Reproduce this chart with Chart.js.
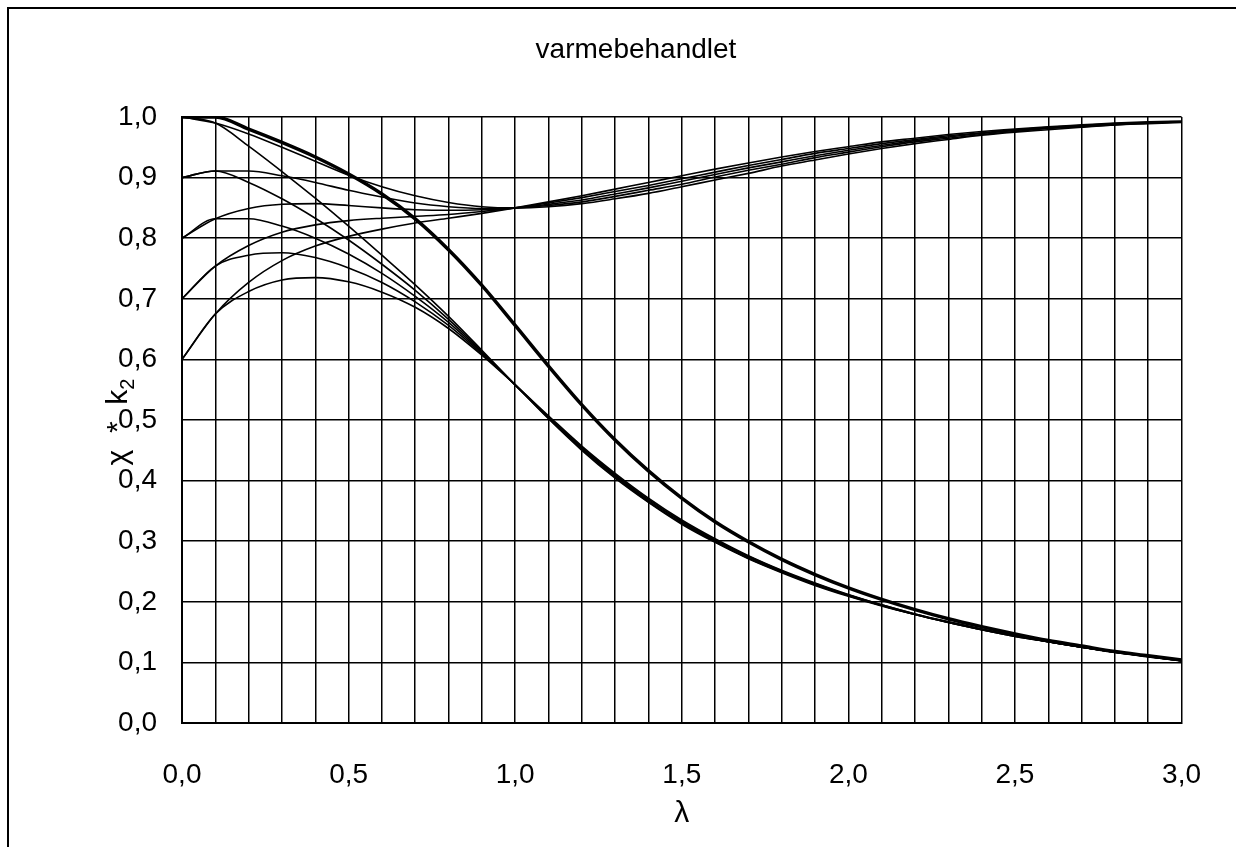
<!DOCTYPE html>
<html>
<head>
<meta charset="utf-8">
<title>varmebehandlet</title>
<script src="https://cdn.jsdelivr.net/npm/chart.js@4.4.1/dist/chart.umd.min.js"></script>
<style>
  html, body { margin: 0; padding: 0; background: #fff; }
  #graf { display: block; }
</style>
</head>
<body>
<canvas id="graf" width="1236" height="847"></canvas>
<script>
// ======================
// χ * k2 - varmebehandlet
// ======================

// slankhet λ
const lambda = [0.0, 0.1, 0.2, 0.3, 0.4, 0.5, 0.6, 0.7, 0.8, 0.9, 1.0,
  1.1, 1.2, 1.3, 1.4, 1.5, 1.6, 1.7, 1.8, 1.9, 2.0,
  2.1, 2.2, 2.3, 2.4, 2.5, 2.6, 2.7, 2.8, 2.9, 3.0];

// χ (tykk kurve)
const chi = [1.000, 1.000, 0.980, 0.958, 0.934, 0.906, 0.873, 0.832, 0.781, 0.722, 0.656,
  0.589, 0.525, 0.467, 0.416, 0.371, 0.332, 0.299, 0.270, 0.245, 0.223,
  0.204, 0.187, 0.172, 0.159, 0.147, 0.136, 0.127, 0.118, 0.111, 0.104];

// k2 for startverdi 0,6 - 1,0
const k2_06 = [0.600, 0.675, 0.727, 0.763, 0.787, 0.803, 0.815, 0.825, 0.833, 0.841, 0.850,
  0.860, 0.870, 0.881, 0.892, 0.903, 0.914, 0.924, 0.934, 0.943, 0.951,
  0.959, 0.965, 0.971, 0.976, 0.980, 0.984, 0.987, 0.990, 0.992, 0.993];
const k2_07 = [0.700, 0.754, 0.788, 0.810, 0.822, 0.829, 0.833, 0.836, 0.839, 0.844, 0.850,
  0.858, 0.867, 0.877, 0.887, 0.898, 0.909, 0.920, 0.930, 0.940, 0.948,
  0.956, 0.963, 0.969, 0.974, 0.979, 0.983, 0.986, 0.989, 0.991, 0.993];
const k2_08 = [0.800, 0.832, 0.849, 0.856, 0.857, 0.854, 0.850, 0.847, 0.846, 0.847, 0.850,
  0.856, 0.863, 0.873, 0.883, 0.894, 0.905, 0.916, 0.926, 0.936, 0.945,
  0.953, 0.961, 0.967, 0.973, 0.978, 0.982, 0.985, 0.988, 0.990, 0.992];
const k2_09 = [0.900, 0.911, 0.911, 0.903, 0.892, 0.879, 0.868, 0.858, 0.852, 0.849, 0.850,
  0.854, 0.860, 0.869, 0.879, 0.889, 0.901, 0.912, 0.922, 0.933, 0.942,
  0.951, 0.959, 0.965, 0.971, 0.976, 0.981, 0.984, 0.987, 0.990, 0.992];
const k2_10 = [1.000, 0.990, 0.972, 0.950, 0.927, 0.904, 0.885, 0.870, 0.859, 0.852, 0.850,
  0.852, 0.857, 0.865, 0.874, 0.885, 0.896, 0.907, 0.919, 0.929, 0.939,
  0.948, 0.956, 0.963, 0.970, 0.975, 0.979, 0.983, 0.987, 0.989, 0.991];

// χ * k2
const prod_06 = [0.600, 0.675, 0.712, 0.731, 0.735, 0.728, 0.711, 0.686, 0.651, 0.607, 0.558,
  0.507, 0.457, 0.412, 0.371, 0.335, 0.304, 0.276, 0.252, 0.231, 0.212,
  0.195, 0.180, 0.167, 0.155, 0.144, 0.134, 0.125, 0.117, 0.110, 0.103];
const prod_07 = [0.700, 0.754, 0.772, 0.776, 0.768, 0.751, 0.727, 0.695, 0.656, 0.609, 0.558,
  0.505, 0.455, 0.410, 0.369, 0.333, 0.302, 0.275, 0.251, 0.230, 0.211,
  0.195, 0.180, 0.167, 0.155, 0.144, 0.134, 0.125, 0.117, 0.110, 0.103];
const prod_08 = [0.800, 0.832, 0.832, 0.820, 0.800, 0.774, 0.742, 0.704, 0.661, 0.611, 0.558,
  0.504, 0.454, 0.408, 0.367, 0.332, 0.301, 0.274, 0.250, 0.229, 0.211,
  0.194, 0.179, 0.166, 0.154, 0.144, 0.134, 0.125, 0.117, 0.110, 0.103];
const prod_09 = [0.900, 0.911, 0.892, 0.865, 0.833, 0.797, 0.757, 0.714, 0.666, 0.613, 0.558,
  0.503, 0.452, 0.406, 0.365, 0.330, 0.299, 0.272, 0.249, 0.228, 0.210,
  0.194, 0.179, 0.166, 0.154, 0.143, 0.134, 0.125, 0.117, 0.110, 0.103];
const prod_10 = [1.000, 0.990, 0.952, 0.910, 0.866, 0.820, 0.772, 0.723, 0.671, 0.615, 0.558,
  0.502, 0.450, 0.404, 0.364, 0.328, 0.298, 0.271, 0.248, 0.227, 0.209,
  0.193, 0.179, 0.166, 0.154, 0.143, 0.134, 0.125, 0.117, 0.109, 0.103];

const k2Serier = [k2_06, k2_07, k2_08, k2_09, k2_10];
const prodSerier = [prod_06, prod_07, prod_08, prod_09, prod_10];

const FONT = "'Liberation Sans', Arial, sans-serif";
const fmt = (v) => v.toFixed(1).replace(".", ",");
const punkter = (arr) => lambda.map((x, i) => ({ x, y: arr[i] }));

const linje = (arr, bredde) => ({
  data: punkter(arr),
  borderColor: "#000",
  borderWidth: bredde,
  pointRadius: 0,
  fill: false,
  cubicInterpolationMode: "monotone",
});

const datasets = [linje(chi, 3.5)];
k2Serier.forEach((s) => datasets.push(linje(s, 1.6)));
prodSerier.forEach((s) => datasets.push(linje(s, 1.6)));

// hvit bakgrunn, ramme, tittel og y-aksetittel med senket 2
const tegnTekst = {
  id: "tegnTekst",
  beforeDraw(chart) {
    const ctx = chart.ctx;
    ctx.save();
    ctx.fillStyle = "#fff";
    ctx.fillRect(0, 0, chart.width, chart.height);
    ctx.strokeStyle = "#000";
    ctx.lineWidth = 2;
    ctx.strokeRect(8, 8, 1400, 1000);
    ctx.restore();
  },
  afterDraw(chart) {
    const ctx = chart.ctx;
    ctx.save();
    ctx.fillStyle = "#000";
    ctx.textBaseline = "middle";
    ctx.textAlign = "center";
    ctx.font = "28px " + FONT;
    ctx.fillText("varmebehandlet", 636, 50);
    ctx.restore();

    // χ * k2 rotert
    ctx.save();
    ctx.fillStyle = "#000";
    ctx.translate(117, 422);
    ctx.rotate(-Math.PI / 2);
    ctx.textAlign = "left";
    ctx.textBaseline = "alphabetic";
    const hoved = "χ  *  k";
    ctx.font = "30px " + FONT;
    const b1 = ctx.measureText(hoved).width;
    ctx.font = "20px " + FONT;
    const b2 = ctx.measureText("2").width;
    const start = -(b1 + b2) / 2;
    ctx.font = "30px " + FONT;
    ctx.fillText(hoved, start, 10);
    ctx.font = "20px " + FONT;
    ctx.fillText("2", start + b1, 17);
    ctx.restore();
  },
};

new Chart(document.getElementById("graf"), {
  type: "line",
  data: { datasets },
  plugins: [tegnTekst],
  options: {
    responsive: false,
    animation: false,
    layout: { padding: { top: 117, right: 51, left: 0, bottom: 0 } },
    plugins: { legend: { display: false }, tooltip: { enabled: false }, title: { display: false } },
    scales: {
      x: {
        type: "linear",
        min: 0,
        max: 3,
        ticks: {
          stepSize: 0.1,
          autoSkip: false,
          maxRotation: 0,
          padding: 35,
          color: "#000",
          font: { family: FONT, size: 28 },
          callback: (v) => (Math.round(v * 10) % 5 === 0 ? fmt(v) : ""),
        },
        grid: { color: "#000", lineWidth: 1.5, drawTicks: false },
        border: { color: "#000", width: 2 },
        title: {
          display: true,
          text: "λ",
          color: "#000",
          font: { family: FONT, size: 30 },
          padding: { top: 0, bottom: 15 },
        },
        afterFit: (s) => { s.height = 124; },
      },
      y: {
        min: 0,
        max: 1,
        ticks: {
          stepSize: 0.1,
          padding: 25,
          color: "#000",
          font: { family: FONT, size: 28 },
          callback: (v) => fmt(v),
        },
        grid: { color: "#000", lineWidth: 1.5, drawTicks: false },
        border: { color: "#000", width: 2 },
        afterFit: (s) => { s.width = 182; },
      },
    },
  },
});
</script>
</body>
</html>
